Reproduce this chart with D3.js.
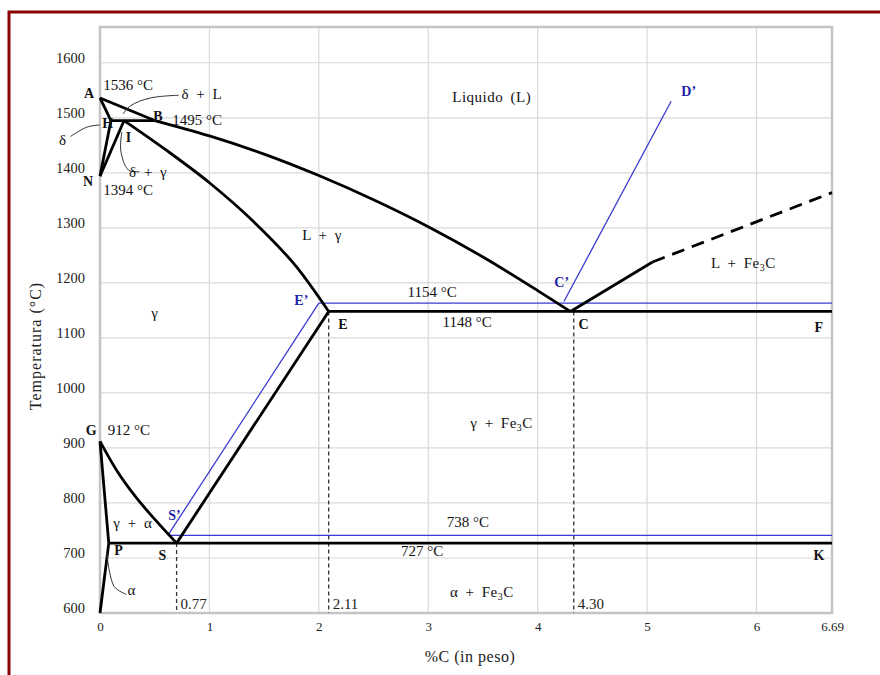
<!DOCTYPE html>
<html>
<head>
<meta charset="utf-8">
<script src="https://cdn.jsdelivr.net/npm/d3@7"></script>
<style>
  body { margin: 0; background: #fff; }
  text { font-family: "Liberation Serif", "Times New Roman", serif; }
</style>
</head>
<body>
<svg id="chart" width="880" height="675"></svg>
<script>
// Axis ticks
const tempTicks = [600, 700, 800, 900, 1000, 1100, 1200, 1300, 1400, 1500, 1600];
const carbonTicks = [0, 1, 2, 3, 4, 5, 6, 6.69];

// Phase boundaries, as [%C, °C]
const lineAH = [[0, 1536], [0.1, 1495]];
const lineNH = [[0, 1394], [0.1, 1495]];
const lineNI = [[0, 1394], [0.22, 1495]];
const lineHB = [[0.1, 1495], [0.5, 1495]];
const lineAB = [[0, 1536], [0.5, 1495]];
const liquidusBC = [[0.5, 1495], [1, 1467], [1.5, 1434], [2, 1395], [2.5, 1351], [3, 1302], [3.5, 1247], [4, 1186], [4.3, 1148]];
const solidusIE = [[0.22, 1495], [0.6, 1442], [1.0, 1382], [1.4, 1312], [1.8, 1228], [2.09, 1148]];
const liquidusCD = [[4.3, 1148], [5.05, 1238]];
const liquidusDash = [[5.05, 1238], [6.69, 1364]];
const eutectic = [[2.09, 1148], [6.69, 1148]];
const eutectoid = [[0.08, 727], [6.69, 727]];
const curveGS = [[0, 912], [0.15, 860], [0.33, 810], [0.52, 766], [0.7, 727]];
const lineGP = [[0, 912], [0.08, 727]];
const linePO = [[0.08, 727], [0, 600]];
const lineSE = [[0.7, 727], [2.09, 1148]];

// Metastable (blue) lines
const blueUpper = [[2.0, 1163], [6.69, 1163]];
const blueLower = [[0.62, 741], [6.69, 741]];
const blueSE = [[0.62, 741], [2.0, 1163]];
const blueCD = [[4.24, 1166], [5.22, 1530]];

// Composition markers (dashed verticals)
const markers = [
  { c: 0.7, top: 727, label: "0.77" },
  { c: 2.09, top: 1148, label: "2.11" },
  { c: 4.33, top: 1148, label: "4.30" }
];

// Point letters
const pointLabels = [
  { t: "A", c: -0.1, T: 1541 }, { t: "B", c: 0.53, T: 1500 }, { t: "H", c: 0.07, T: 1488 },
  { t: "I", c: 0.26, T: 1462 }, { t: "N", c: -0.11, T: 1381 }, { t: "E", c: 2.22, T: 1122 },
  { t: "C", c: 4.42, T: 1122 }, { t: "F", c: 6.57, T: 1117 }, { t: "G", c: -0.08, T: 930 },
  { t: "P", c: 0.17, T: 712 }, { t: "S", c: 0.57, T: 702 }, { t: "K", c: 6.57, T: 702 }
];
const blueLabels = [
  { t: "E\u2019", c: 1.84, T: 1166 }, { t: "C\u2019", c: 4.22, T: 1198 },
  { t: "D\u2019", c: 5.38, T: 1545 }, { t: "S\u2019", c: 0.68, T: 774 }
];

// Temperature notes
const tempNotes = [
  { t: "1536 \u00b0C", c: 0.03, T: 1556 }, { t: "1495 \u00b0C", c: 0.66, T: 1493 },
  { t: "1394 \u00b0C", c: 0.03, T: 1366 }, { t: "1154 \u00b0C", c: 2.81, T: 1180 },
  { t: "1148 \u00b0C", c: 3.13, T: 1126 }, { t: "912 \u00b0C", c: 0.07, T: 930 },
  { t: "738 \u00b0C", c: 3.17, T: 762 }, { t: "727 \u00b0C", c: 2.75, T: 709 }
];

// Phase field names (sub = subscript part)
const fields = [
  { t: "Liquido (L)", c: 3.58, T: 1528 }, { t: "L + \u03b3", c: 2.03, T: 1278 },
  { t: "\u03b3", c: 0.5, T: 1136 }, { t: "L + Fe", sub: "3", tail: "C", c: 5.88, T: 1227 },
  { t: "\u03b3 + Fe", sub: "3", tail: "C", c: 3.67, T: 936 }, { t: "\u03b3 + \u03b1", c: 0.3, T: 755 },
  { t: "\u03b1 + Fe", sub: "3", tail: "C", c: 3.49, T: 629 },
  { t: "\u03b4 + L", c: 0.93, T: 1535 }, { t: "\u03b4 + \u03b3", c: 0.44, T: 1393 },
  { t: "\u03b4", c: -0.34, T: 1451 }, { t: "\u03b1", c: 0.29, T: 633 }
];

// Leader curves from field names to small fields
const leaders = [
  [[0.72, 1541], [0.46, 1536], [0.28, 1522], [0.21, 1507]],
  [[-0.27, 1466], [-0.12, 1483], [0, 1487]],
  [[0.36, 1402], [0.26, 1405], [0.19, 1440], [0.2, 1474]],
  [[0.24, 634], [0.13, 648], [0.06, 712]]
];

const svg = d3.select("#chart");
const margin = { left: 100, right: 832, top: 27, bottom: 613 };

const x = d3.scaleLinear().domain([0, 6.69]).range([margin.left, margin.right]);
const y = d3.scaleLinear().domain([600, 1665]).range([margin.bottom, margin.top]);

// outer dark red frame (only top and left edge are visible)
svg.append("rect")
  .attr("x", 9).attr("y", 12).attr("width", 900).attr("height", 700)
  .attr("fill", "none").attr("stroke", "#8b0000").attr("stroke-width", 3);

// grid
const grid = svg.append("g");
grid.selectAll("line.h")
  .data(tempTicks)
  .join("line")
  .attr("x1", margin.left).attr("x2", margin.right)
  .attr("y1", d => y(d)).attr("y2", d => y(d))
  .attr("stroke", "#d9d9d9").attr("stroke-width", 1.2);
grid.selectAll("line.v")
  .data(carbonTicks.slice(1, -1))
  .join("line")
  .attr("x1", d => x(d)).attr("x2", d => x(d))
  .attr("y1", margin.top).attr("y2", margin.bottom)
  .attr("stroke", "#d9d9d9").attr("stroke-width", 1.2);

svg.append("rect")
  .attr("x", margin.left).attr("y", margin.top)
  .attr("width", margin.right - margin.left).attr("height", margin.bottom - margin.top)
  .attr("fill", "none").attr("stroke", "#c4c4c4").attr("stroke-width", 2.5);

// axes
const yAxis = svg.append("g")
  .attr("transform", `translate(${margin.left},0)`)
  .call(d3.axisLeft(y).tickValues(tempTicks).tickSize(0).tickPadding(15).tickFormat(d3.format("d")));
yAxis.select(".domain").remove();
yAxis.selectAll("text")
  .attr("dy", "-0.05em")
  .style("font-family", "Liberation Serif, serif").style("font-size", "14.5px").attr("fill", "#222");

const xAxis = svg.append("g")
  .attr("transform", `translate(0,${margin.bottom})`)
  .call(d3.axisBottom(x).tickValues(carbonTicks).tickSize(0).tickPadding(9).tickFormat(d => d === 6.69 ? "6.69" : d3.format("d")(d)));
xAxis.select(".domain").remove();
xAxis.selectAll("text")
  .style("font-family", "Liberation Serif, serif").style("font-size", "13px").attr("fill", "#222");

svg.append("text")
  .attr("x", 470).attr("y", 662).attr("text-anchor", "middle")
  .attr("font-size", 16).attr("letter-spacing", 0.5).attr("fill", "#222").text("%C (in peso)");
svg.append("text")
  .attr("transform", "translate(41,346) rotate(-90)").attr("text-anchor", "middle")
  .attr("font-size", 16).attr("letter-spacing", 1).attr("fill", "#222").text("Temperatura (\u00b0C)");

const line = d3.line().x(d => x(d[0])).y(d => y(d[1]));
const smooth = d3.line().x(d => x(d[0])).y(d => y(d[1])).curve(d3.curveMonotoneX);
const loose = d3.line().x(d => x(d[0])).y(d => y(d[1])).curve(d3.curveCatmullRom.alpha(0.5));

// dashed composition markers
svg.append("g").selectAll("line")
  .data(markers)
  .join("line")
  .attr("x1", d => x(d.c)).attr("x2", d => x(d.c))
  .attr("y1", d => y(d.top)).attr("y2", y(600))
  .attr("stroke", "#333").attr("stroke-width", 1.3).attr("stroke-dasharray", "4,3");
svg.append("g").selectAll("text")
  .data(markers)
  .join("text")
  .attr("x", d => x(d.c) + 4).attr("y", y(600) - 4)
  .attr("font-size", 15).attr("fill", "#222").text(d => d.label);

// blue metastable lines
const blue = svg.append("g").attr("fill", "none").attr("stroke", "#3a3ad0").attr("stroke-width", 1.3);
[blueUpper, blueLower, blueSE, blueCD].forEach(d => blue.append("path").attr("d", line(d)));

// black equilibrium lines
const black = svg.append("g").attr("fill", "none").attr("stroke", "#000").attr("stroke-width", 2.8)
  .attr("stroke-linejoin", "round");
[lineAH, lineNH, lineNI, lineHB, lineAB, liquidusCD, eutectic, eutectoid, lineGP, linePO, lineSE]
  .forEach(d => black.append("path").attr("d", line(d)));
[liquidusBC, solidusIE, curveGS].forEach(d => black.append("path").attr("d", smooth(d)));
black.append("path").attr("d", line(liquidusDash)).attr("stroke-dasharray", "13,8");

// leader curves
svg.append("g").selectAll("path")
  .data(leaders)
  .join("path")
  .attr("d", d => loose(d))
  .attr("fill", "none").attr("stroke", "#333").attr("stroke-width", 1);

// point letters
svg.append("g").selectAll("text")
  .data(pointLabels)
  .join("text")
  .attr("x", d => x(d.c)).attr("y", d => y(d.T))
  .attr("text-anchor", "middle").attr("dominant-baseline", "middle")
  .attr("font-size", 14).attr("font-weight", "bold").attr("fill", "#111").text(d => d.t);
svg.append("g").selectAll("text")
  .data(blueLabels)
  .join("text")
  .attr("x", d => x(d.c)).attr("y", d => y(d.T))
  .attr("text-anchor", "middle").attr("dominant-baseline", "middle")
  .attr("font-size", 14).attr("font-weight", "bold").attr("fill", "#1f1fa8").text(d => d.t);

// temperature notes
svg.append("g").selectAll("text")
  .data(tempNotes)
  .join("text")
  .attr("x", d => x(d.c)).attr("y", d => y(d.T))
  .attr("dominant-baseline", "middle")
  .attr("font-size", 15).attr("fill", "#111").text(d => d.t);

// field names
const f = svg.append("g").selectAll("text")
  .data(fields)
  .join("text")
  .attr("x", d => x(d.c)).attr("y", d => y(d.T))
  .attr("text-anchor", "middle")
  .attr("font-size", 15).attr("letter-spacing", 0.5).attr("word-spacing", 3).attr("fill", "#111");
f.append("tspan").text(d => d.t);
f.filter(d => d.sub).append("tspan").attr("font-size", 10).attr("dy", 3).text(d => d.sub);
f.filter(d => d.sub).append("tspan").attr("dy", -3).text(d => d.tail);
</script>
</body>
</html>
